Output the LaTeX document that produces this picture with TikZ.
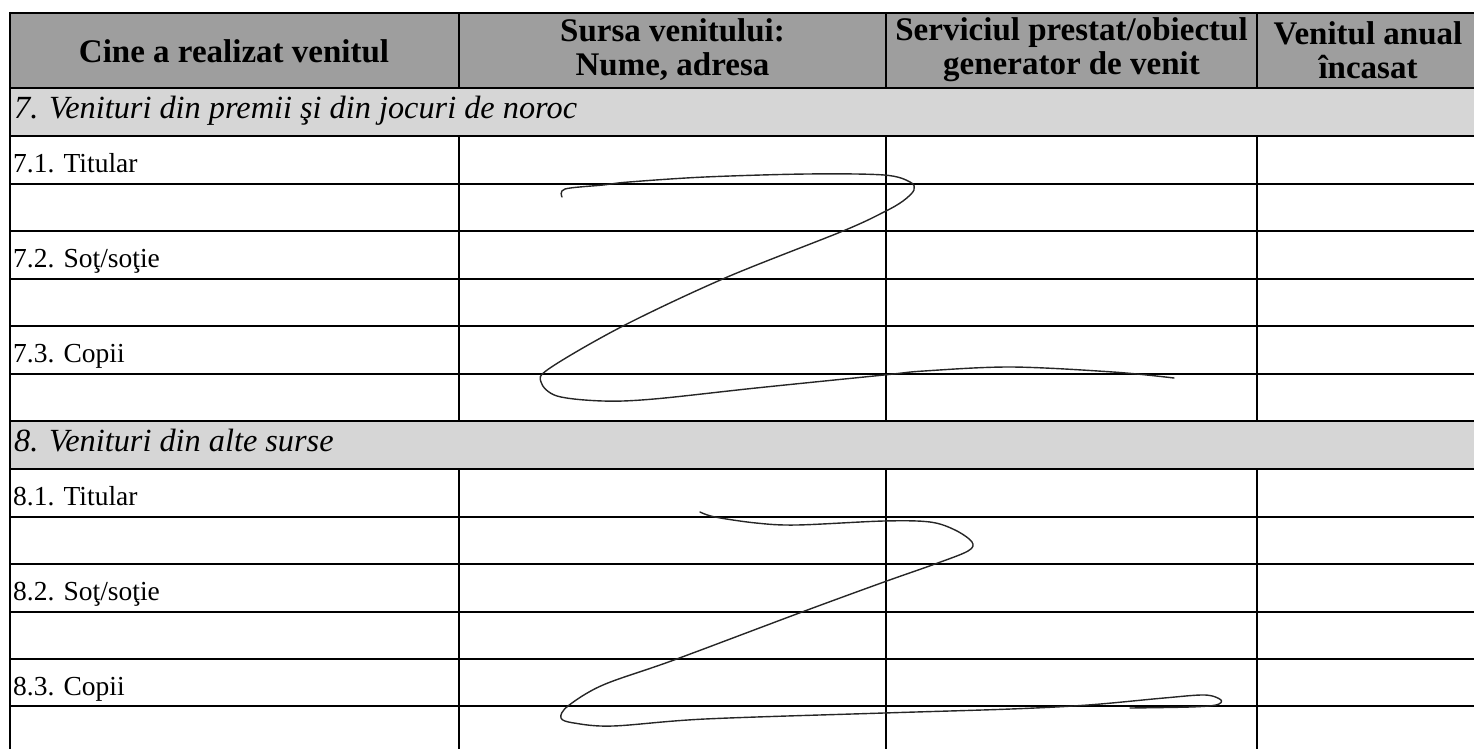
\documentclass[tikz,border=0pt]{standalone}
\usepackage{fontspec}
\setmainfont{Liberation Serif}
\definecolor{hdrgray}{gray}{0.62}
\definecolor{secgray}{gray}{0.84}
\tikzset{
  grid/.style={line width=1.8pt, black},
  hdrtext/.style={align=center, font=\fontsize{33}{34}\selectfont\bfseries, inner sep=0pt},
  sectext/.style={anchor=base west, font=\fontsize{32.3}{34}\selectfont\itshape, inner sep=0pt},
  rowtext/.style={anchor=base west, font=\fontsize{27.5}{30}\selectfont, inner sep=0pt},
  scribble/.style={line width=1.4pt, black!85, line cap=round, line join=round}
}
\begin{document}
\begin{tikzpicture}[x=1pt,y=-1pt]
\useasboundingbox (0,0) rectangle (1474,749);
\clip (0,0) rectangle (1474,749);
% fills
\fill[hdrgray] (10,13) rectangle (1490,88);
\fill[secgray] (10,88) rectangle (1490,136);
\fill[secgray] (10,421) rectangle (1490,469);
% horizontal lines
\foreach \y in {13,88,136,184,231,279,326,374,421,469,517,564,612,659,706}
  \draw[grid] (9,\y) -- (1490,\y);
% vertical lines
\draw[grid] (10,12) -- (10,760);
\foreach \x in {459,886,1257} {
  \draw[grid] (\x,13) -- (\x,88);
  \draw[grid] (\x,136) -- (\x,421);
  \draw[grid] (\x,469) -- (\x,760);
}
% header
\node[hdrtext] (h1) at (234,51) {Cine a realizat venitul};
\node[hdrtext] (h2) at (672.5,50) {Sursa venitului:\\Nume, adresa};
\node[hdrtext] (h3) at (1071.5,50) {Serviciul prestat/obiectul\\generator de venit};
\node[hdrtext] (h4) at (1368,50) {Venitul anual\\încasat};
% section 7
\node[sectext] (s7) at (14,118) {7. Venituri din premii şi din jocuri de noroc};
\node[rowtext] (r71) at (13,172) {7.1. Titular};
\node[rowtext] (r72) at (13,267) {7.2. Soţ/soţie};
\node[rowtext] (r73) at (13,362) {7.3. Copii};
% section 8
\node[sectext] (s8) at (14,451) {8. Venituri din alte surse};
\node[rowtext] (r81) at (13,505) {8.1. Titular};
\node[rowtext] (r82) at (13,600) {8.2. Soţ/soţie};
\node[rowtext] (r83) at (13,695) {8.3. Copii};
% scribbles
\draw[scribble] plot[smooth, tension=0.55] coordinates {(562,197) (565,189) (603,185) (629,182) (705,177) (807,174) (884,175) (910,182) (914,190) (903,201) (884,212) (843,231) (725,278) (623,326) (550,368) (541,382) (557,396) (603,401) (654,399) (756,388) (884,375) (924,371) (1011,367) (1113,372) (1174,378)};
\draw[scribble] plot[smooth, tension=0.55] coordinates {(700,512) (715,517) (756,523) (797,525) (884,521) (930,522) (955,530) (972,542) (968,551) (935,564) (884,582) (802,612) (674,660) (603,685) (568,706) (561,718) (574,723) (613,726) (705,719) (884,713) (1011,709) (1088,705) (1164,698) (1205,695) (1221,700) (1216,705) (1190,707) (1130,708)};
\end{tikzpicture}
\end{document}
